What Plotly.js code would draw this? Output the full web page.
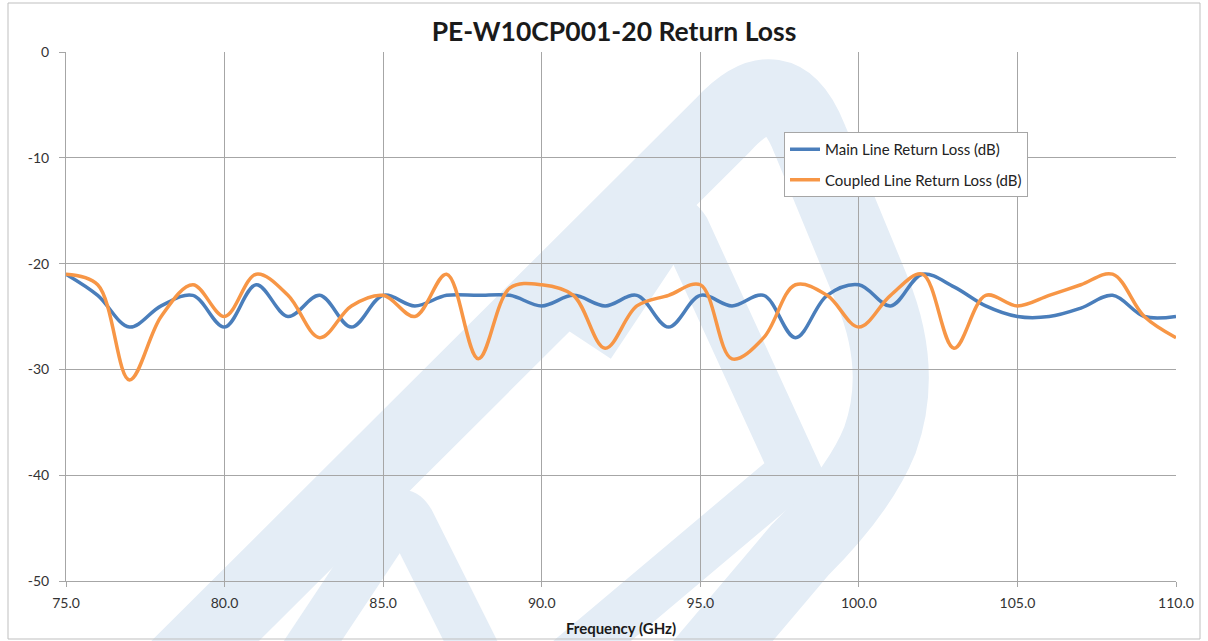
<!DOCTYPE html>
<html>
<head>
<meta charset="utf-8">
<script src="https://cdn.plot.ly/plotly-3.0.1.min.js"></script>
<style>html,body{margin:0;padding:0;background:#fff;}#chart{width:1208px;height:641px;}</style>
</head>
<body>
<div id="chart"></div>
<script>
// Data
const freqGHz = [75,76,77,78,79,80,81,82,83,84,85,86,87,88,89,90,91,92,93,94,95,96,97,98,99,100,101,102,103,104,105,106,107,108,109,110];
const mainLineRL = [-21,-23,-26,-24,-23,-26,-22,-25,-23,-26,-23,-24,-23,-23,-23,-24,-23,-24,-23,-26,-23,-24,-23,-27,-23,-22,-24,-21,-22.2,-24,-25,-25,-24.2,-23,-25,-25];
const coupledLineRL = [-21,-22,-31,-25,-22,-25,-21,-23,-27,-24,-23,-25,-21,-29,-22.3,-22,-23,-28,-24,-23,-22,-29,-27,-22,-23,-26,-23,-21,-28,-23,-24,-23,-22,-21,-25,-27];
const seriesNames = ['Main Line Return Loss (dB)','Coupled Line Return Loss (dB)'];
const chartTitle = 'PE-W10CP001-20 Return Loss';
const xTitle = 'Frequency (GHz)';
const yTickVals = [0,-10,-20,-30,-40,-50];
const yTickText = ['0','-10','-20','-30','-40','-50'];

// plot-area pixel frame, used only for decoration shapes
const PL=66, PR=1176, PT=52, PB=581;
function P(x,y){return ((x-PL)/(PR-PL)).toFixed(4)+','+((PB-y)/(PB-PT)).toFixed(4);}
const wm = '#e4edf6';
function band(d, w){return {type:'path', xref:'paper', yref:'paper', layer:'below', path:d, line:{color:wm, width:w}};}
const shapes = [
  band('M '+P(178,668)+' L '+P(722,126)+' Q '+P(780,62)+' '+P(810,140)+' L '+P(872,290)+' Q '+P(905,370)+' '+P(880,440)+' Q '+P(860,490)+' '+P(800,550)+' L '+P(700,668), 76),
  band('M '+P(590,345)+' L '+P(668,228)+' Q '+P(676,215)+' '+P(685,230)+' L '+P(795,470)+' L '+P(560,668), 50),
  band('M '+P(300,660)+' L '+P(393,520)+' Q '+P(402,506)+' '+P(411,522)+' L '+P(480,660), 48),
  {type:'rect', xref:'paper', yref:'paper', layer:'above',
   x0:(8-PL)/(PR-PL), x1:(1200-PL)/(PR-PL), y0:(PB-639)/(PB-PT), y1:(PB-3)/(PB-PT),
   line:{color:'#bfbfbf', width:1}, fillcolor:'rgba(0,0,0,0)'}
];

const traces = [
  {x:freqGHz, y:mainLineRL, name:seriesNames[0], type:'scatter', mode:'lines',
   line:{color:'#4a7ebb', width:3.5, shape:'spline', smoothing:1}, legendgroup:'a'},
  {x:freqGHz, y:coupledLineRL, name:seriesNames[1], type:'scatter', mode:'lines',
   line:{color:'#f79646', width:3.5, shape:'spline', smoothing:1}, legendgroup:'b'}
];

const font = 'Lato, "Open Sans", sans-serif';
const layout = {
  width:1208, height:641,
  margin:{l:PL, r:1208-PR, t:PT, b:641-PB, pad:0},
  paper_bgcolor:'#ffffff', plot_bgcolor:'rgba(0,0,0,0)',
  font:{family:font, size:14, color:'#333333'},
  title:{text:'<b>'+chartTitle+'</b>', x:614/1208, xanchor:'center', y:1-32/641, yanchor:'middle', yref:'container', xref:'container',
         font:{family:font, size:26.5, color:'#1a1a1a'}},
  xaxis:{range:[75,110], dtick:5, tick0:75, tickformat:'.1f', showgrid:true, gridcolor:'#a6a6a6', gridwidth:1,
         showline:true, linecolor:'#a6a6a6', linewidth:1, mirror:false, ticks:'outside', ticklen:5, tickcolor:'#a6a6a6',
         ticklabelstandoff:4, zeroline:false, tickfont:{size:14, color:'#333'},
         title:{text:'<b>'+xTitle+'</b>', font:{size:15, color:'#1a1a1a'}, standoff:13}},
  yaxis:{range:[-50,0], tickmode:'array', tickvals:yTickVals, ticktext:yTickText, showgrid:true, gridcolor:'#a6a6a6', gridwidth:1,
         showline:true, linecolor:'#a6a6a6', linewidth:1, ticks:'outside', ticklen:6, tickcolor:'#a6a6a6',
         ticklabelstandoff:7, zeroline:false, tickfont:{size:14, color:'#333'}},
  showlegend:true,
  legend:{x:(784-PL)/(PR-PL), y:(PB-132)/(PB-PT), xanchor:'left', yanchor:'top',
          bgcolor:'#ffffff', bordercolor:'#a6a6a6', borderwidth:1,
          font:{size:15, color:'#222'}, traceorder:'grouped', tracegroupgap:8},
  shapes:shapes
};
Plotly.newPlot('chart', traces, layout, {staticPlot:true, displayModeBar:false});
</script>
</body>
</html>
